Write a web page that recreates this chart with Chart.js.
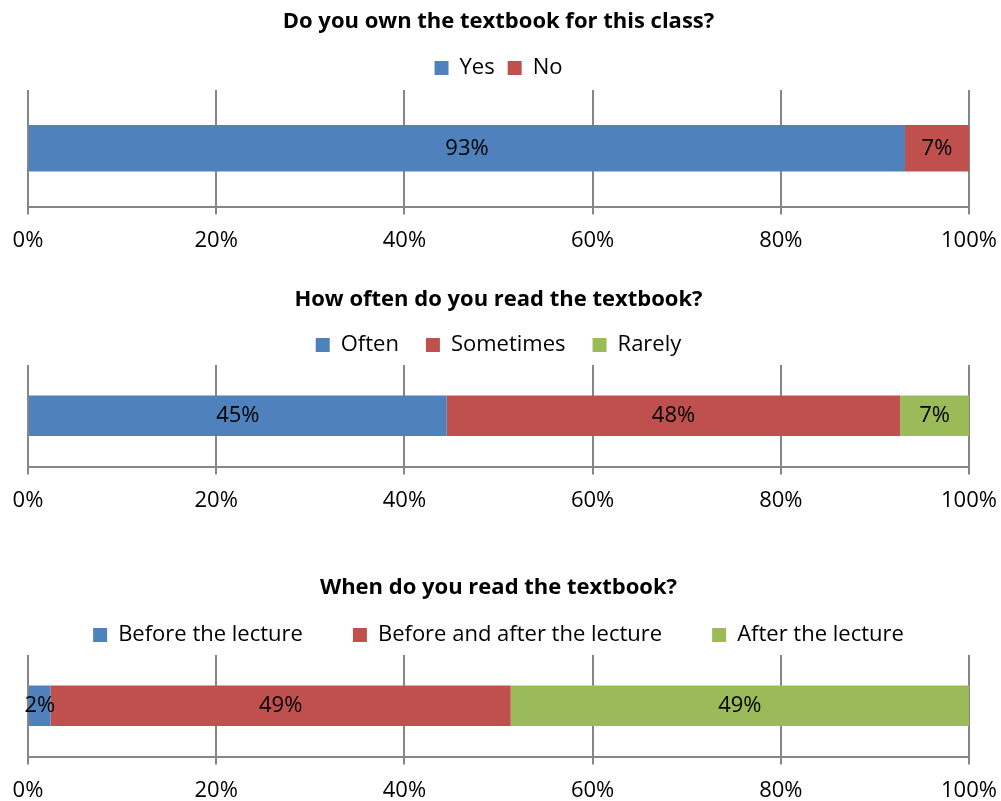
<!DOCTYPE html>
<html>
<head>
<meta charset="utf-8">
<script src="https://cdn.jsdelivr.net/npm/chart.js@4.4.1/dist/chart.umd.min.js"></script>
<style>
  html, body { margin: 0; padding: 0; background: #ffffff; }
  body { width: 1001px; height: 801px; position: relative; overflow: hidden; }
  .box { position: absolute; left: 0; width: 1001px; }
</style>
</head>
<body>
<div class="box" id="b1" style="top:0px;height:267px;"><canvas id="c1"></canvas></div>
<div class="box" id="b2" style="top:270px;height:257px;"><canvas id="c2"></canvas></div>
<div class="box" id="b3" style="top:560px;height:257px;"><canvas id="c3"></canvas></div>
<script>
// ---- Data ----
const ownTitle = 'Do you own the textbook for this class?';
const ownCategories = ['Yes', 'No'];
const ownValues = [93.2, 6.8];

const oftenTitle = 'How often do you read the textbook?';
const oftenCategories = ['Often', 'Sometimes', 'Rarely'];
const oftenValues = [44.5, 48.2, 7.3];

const whenTitle = 'When do you read the textbook?';
const whenCategories = ['Before the lecture', 'Before and after the lecture', 'After the lecture'];
const whenValues = [2.4, 48.9, 48.7];

const xTicks = [0, 20, 40, 60, 80, 100];

const palette = ['#4F81BD', '#C0504D', '#9BBB59'];
const FONT = '"Open Sans", Lato, sans-serif';

// Draw value labels centered in each bar segment
const valueLabels = {
  id: 'valueLabels',
  afterDatasetsDraw(chart) {
    const ctx = chart.ctx;
    ctx.save();
    ctx.font = '22px ' + FONT;
    ctx.fillStyle = '#000000';
    ctx.textAlign = 'center';
    ctx.textBaseline = 'middle';
    chart.data.datasets.forEach((ds, i) => {
      const meta = chart.getDatasetMeta(i);
      meta.data.forEach((el, j) => {
        const v = ds.data[j];
        const p = el.getCenterPoint();
        ctx.fillText(Math.round(v) + '%', p.x, p.y);
      });
    });
    ctx.restore();
  }
};

function legendGap(extra) {
  return {
    id: 'legendGap',
    beforeInit(chart) {
      const lg = chart.legend;
      if (!lg) return;
      const orig = lg.fit;
      lg.fit = function () { orig.call(this); this.height += extra; };
    }
  };
}

function makeChart(id, title, cats, vals, legendPad, gapExtra, titlePad) {
  const datasets = cats.map((c, i) => ({
    label: c,
    data: [vals[i]],
    backgroundColor: palette[i],
    borderWidth: 0,
    categoryPercentage: 1.0,
    barPercentage: 0.4
  }));
  return new Chart(document.getElementById(id), {
    type: 'bar',
    data: { labels: [''], datasets },
    plugins: [valueLabels, legendGap(gapExtra)],
    options: {
      indexAxis: 'y',
      responsive: true,
      maintainAspectRatio: false,
      animation: false,
      layout: { padding: { left: 28, right: 32, top: 0, bottom: 0 } },
      scales: {
        x: {
          stacked: true,
          min: 0,
          max: 100,
          afterBuildTicks(scale) { scale.ticks = xTicks.map(v => ({ value: v })); },
          afterFit(scale) { scale.paddingLeft = 0; scale.paddingRight = 0; },
          ticks: {
            callback: v => v + '%',
            color: '#000000',
            font: { family: FONT, size: 22 },
            padding: 13,
            maxRotation: 0,
            autoSkip: false
          },
          grid: { color: '#868686', lineWidth: 2, tickLength: 8, drawOnChartArea: true },
          border: { color: '#868686', width: 2 }
        },
        y: {
          stacked: true,
          display: false
        }
      },
      plugins: {
        title: {
          display: true,
          text: title,
          color: '#000000',
          font: { family: FONT, size: 22, weight: 'bold' },
          padding: { top: titlePad[0], bottom: titlePad[1] }
        },
        legend: {
          display: true,
          position: 'top',
          labels: {
            color: '#000000',
            font: { family: FONT, size: 22 },
            boxWidth: 14,
            boxHeight: 14,
            padding: legendPad
          }
        },
        tooltip: { enabled: false }
      }
    }
  });
}

makeChart('c1', ownTitle, ownCategories, ownValues, 13, 1, [8.8, 8.8]);
makeChart('c2', oftenTitle, oftenCategories, oftenValues, 27, -1, [16.8, -6.2]);
makeChart('c3', whenTitle, whenCategories, whenValues, 50, -1, [14.8, -27.2]);
</script>
</body>
</html>
